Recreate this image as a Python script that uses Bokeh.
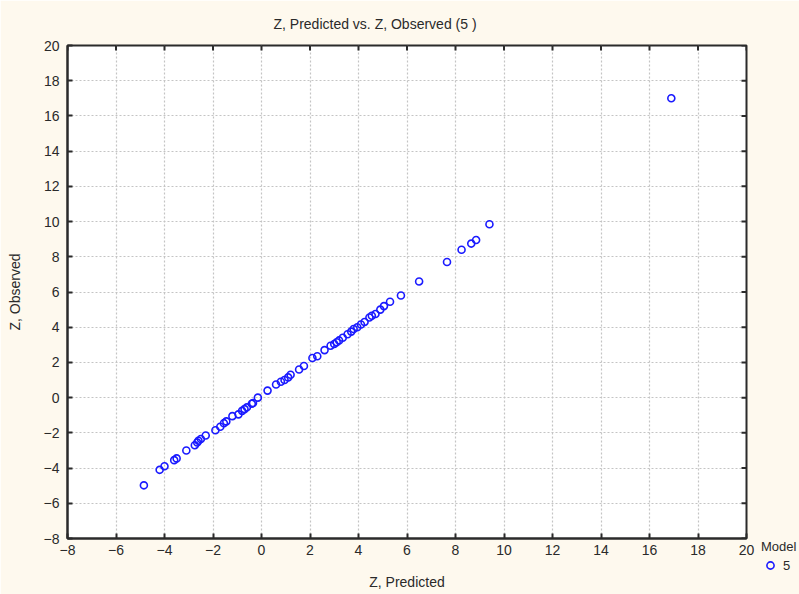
import math
from bokeh.plotting import figure
from bokeh.models import (SingleIntervalTicker, Legend, LegendItem,
                          Range1d, ColumnDataSource)
from bokeh.embed import file_html
from bokeh.resources import INLINE

TITLE = "Z, Predicted vs.  Z, Observed (5 )"
X_LABEL = "Z, Predicted"
Y_LABEL = "Z, Observed"
LEGEND_TITLE = "Model"
SERIES_NAME = "5"

predicted = [-4.85, -4.2, -4.0, -3.6, -3.5, -3.1, -2.75, -2.65, -2.6, -2.5, -2.3,
             -1.9, -1.7, -1.55, -1.45, -1.2, -0.95, -0.8, -0.7, -0.6, -0.4, -0.35,
             -0.15, 0.25, 0.6, 0.8, 0.95, 1.1, 1.2, 1.55, 1.75, 2.1, 2.3, 2.6, 2.85,
             3.0, 3.1, 3.2, 3.35, 3.55, 3.7, 3.8, 3.95, 4.1, 4.25, 4.45, 4.55, 4.7,
             4.9, 5.05, 5.3, 5.75, 6.5, 7.65, 8.25, 8.65, 8.85, 9.4, 16.9]
observed = [-4.98, -4.1, -3.9, -3.55, -3.45, -3.0, -2.7, -2.55, -2.45, -2.35, -2.15,
            -1.85, -1.65, -1.45, -1.35, -1.05, -0.95, -0.75, -0.65, -0.55, -0.35, -0.3,
            0.0, 0.4, 0.75, 0.9, 1.0, 1.15, 1.3, 1.6, 1.8, 2.25, 2.35, 2.7, 2.95,
            3.05, 3.15, 3.25, 3.4, 3.6, 3.75, 3.9, 4.0, 4.15, 4.3, 4.55, 4.65, 4.75,
            5.0, 5.2, 5.45, 5.8, 6.6, 7.7, 8.4, 8.75, 8.95, 9.85, 17.0]

x_min, x_max = -8, 20
y_min, y_max = -8, 20
tick_step = 2
x_ticks = list(range(x_min, x_max + 1, tick_step))
y_ticks = list(range(y_min, y_max + 1, tick_step))

FONT = "Liberation Sans"
TXT = "#2a2a2a"
DARK = "#2b2b2b"

p = figure(frame_width=679, frame_height=493, output_backend="svg",
           toolbar_location=None,
           x_range=Range1d(x_min, x_max), y_range=Range1d(y_min, y_max),
           min_border_left=67, min_border_right=0, min_border_top=45,
           min_border_bottom=56, background_fill_color="white",
           border_fill_color="#fef9ee", outline_line_color=DARK,
           outline_line_width=2, x_axis_label=X_LABEL, y_axis_label=Y_LABEL)

p.title.text = TITLE
p.title.align = "left"
p.title.offset = 206
p.title.text_font = FONT
p.title.text_font_size = "14px"
p.title.text_font_style = "normal"
p.title.text_color = TXT
p.title.standoff = 27

for ax in (p.xaxis[0], p.yaxis[0]):
    ax.ticker = SingleIntervalTicker(interval=tick_step, num_minor_ticks=0)
    ax.major_tick_in = 5
    ax.major_tick_out = 0
    ax.minor_tick_line_color = None
    ax.major_tick_line_color = DARK
    ax.major_tick_line_width = 2
    ax.axis_line_color = DARK
    ax.axis_line_width = 2
    ax.major_label_text_font = FONT
    ax.major_label_text_font_size = "14px"
    ax.major_label_text_color = TXT
    ax.axis_label_text_font = FONT
    ax.axis_label_text_font_size = "14px"
    ax.axis_label_text_font_style = "normal"
    ax.axis_label_text_color = TXT

p.xaxis[0].major_label_standoff = 6
p.xaxis[0].axis_label_standoff = 16
p.yaxis[0].major_label_standoff = 8
p.yaxis[0].axis_label_standoff = 18

for g in (p.xgrid[0], p.ygrid[0]):
    g.grid_line_color = "#c4c4c4"
    g.grid_line_dash = "2 2"
    g.grid_line_width = 1.2

# inward tick marks on top and right edges (half of each dash is clipped by the frame)
p.scatter(x=x_ticks, y=[y_max] * len(x_ticks), marker="dash", angle=math.pi / 2,
          size=10, line_color=DARK, line_width=2)
p.scatter(x=[x_max] * len(y_ticks), y=y_ticks, marker="dash",
          size=10, line_color=DARK, line_width=2)

src = ColumnDataSource(dict(x=predicted, y=observed))
r = p.scatter("x", "y", source=src, marker="circle", size=7, fill_color=None,
              line_color="#1a1aff", line_width=1.6)

legend = Legend(items=[LegendItem(label=SERIES_NAME, renderers=[r])],
                title=LEGEND_TITLE, location=(15, -36), margin=14, padding=0,
                border_line_color=None, background_fill_alpha=0,
                label_text_font=FONT, label_text_font_size="13px",
                label_text_color=TXT, title_text_font=FONT,
                title_text_font_size="13px", title_text_font_style="normal",
                title_text_color=TXT, glyph_width=18, glyph_height=18,
                label_standoff=4, title_standoff=2, label_height=18)
p.add_layout(legend, "right")

open("out.html", "w").write(file_html(p, INLINE))
